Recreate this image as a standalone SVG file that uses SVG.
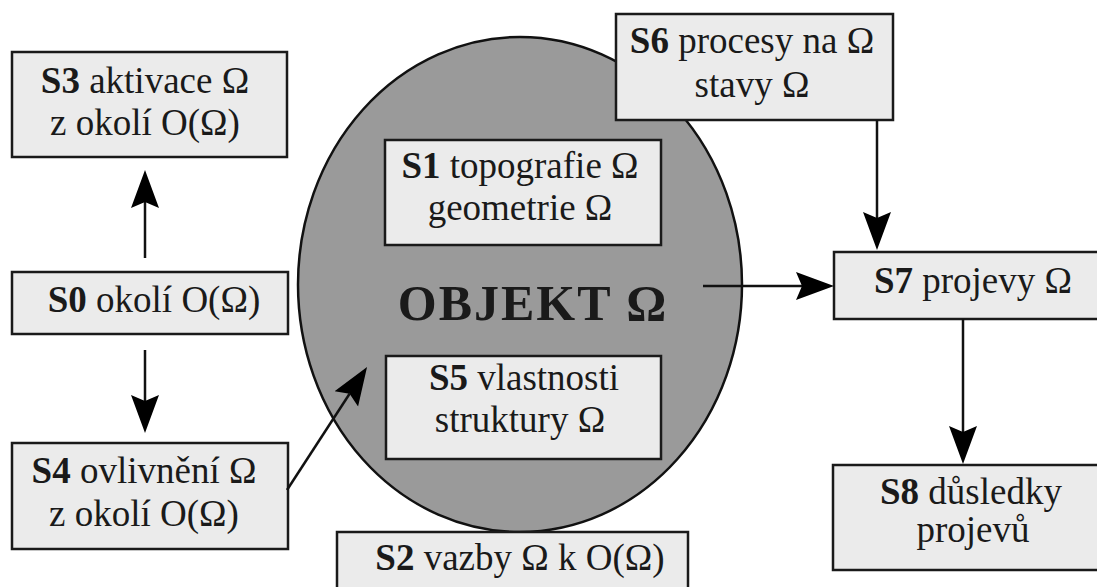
<svg xmlns="http://www.w3.org/2000/svg" width="1097" height="587" viewBox="0 0 1097 587">
<style>
.box{fill:#ebebeb;stroke:#1a1a1a;stroke-width:2.5}
.t{font-family:"Liberation Serif","DejaVu Serif",serif;font-size:37px;fill:#1a1a1a;text-anchor:middle}
.b{font-weight:bold}
.c{stroke:#111;stroke-width:2.5;fill:none}
</style>
<defs>
<marker id="ah" markerUnits="userSpaceOnUse" viewBox="0 -15 40 30" markerWidth="40" markerHeight="30" refX="6" refY="0" orient="auto">
<path d="M0,-14 L38,0 L0,14 L6,0 Z" fill="#000"/>
</marker>
</defs>
<rect width="1097" height="587" fill="#fff"/>
<g id="objekt">
<ellipse cx="520" cy="284.5" rx="222" ry="247.5" fill="#9a9a9a" stroke="#111" stroke-width="2.5"/>
<text class="t b" x="533" y="320" style="font-size:50px" letter-spacing="2">OBJEKT Ω</text>
</g>
<g id="S1">
<rect class="box" x="385" y="140" width="276" height="105"/>
<text class="t" x="520" y="178"><tspan class="b">S1</tspan> topografie Ω</text>
<text class="t" x="520" y="220">geometrie Ω</text>
</g>
<g id="S5">
<rect class="box" x="386" y="356" width="275" height="103"/>
<text class="t" x="524" y="390"><tspan class="b">S5</tspan> vlastnosti</text>
<text class="t" x="520" y="432">struktury Ω</text>
</g>
<g id="S3">
<rect class="box" x="12" y="52" width="275" height="105"/>
<text class="t" x="145" y="93"><tspan class="b">S3</tspan> aktivace Ω</text>
<text class="t" x="145" y="135">z okolí O(Ω)</text>
</g>
<g id="S0">
<rect class="box" x="12" y="272" width="276" height="62"/>
<text class="t" x="154" y="312"><tspan class="b">S0</tspan> okolí O(Ω)</text>
</g>
<g id="S4">
<rect class="box" x="12" y="443" width="276" height="106"/>
<text class="t" x="144" y="483"><tspan class="b">S4</tspan> ovlivnění Ω</text>
<text class="t" x="144" y="526">z okolí O(Ω)</text>
</g>
<g id="S2">
<rect class="box" x="337" y="532" width="351" height="70"/>
<text class="t" x="520" y="570"><tspan class="b">S2</tspan> vazby Ω k O(Ω)</text>
</g>
<g id="S6">
<rect class="box" x="616" y="14" width="277" height="106"/>
<text class="t" x="752" y="53"><tspan class="b">S6</tspan> procesy na Ω</text>
<text class="t" x="752" y="97">stavy Ω</text>
</g>
<g id="S7">
<rect class="box" x="834" y="252" width="270" height="67"/>
<text class="t" x="973" y="293"><tspan class="b">S7</tspan> projevy Ω</text>
</g>
<g id="S8">
<rect class="box" x="833" y="465" width="270" height="105"/>
<text class="t" x="971" y="504"><tspan class="b">S8</tspan> důsledky</text>
<text class="t" x="973" y="542">projevů</text>
</g>
<g id="connectors">
<line class="c" x1="145" y1="258" x2="145" y2="202" marker-end="url(#ah)"/>
<line class="c" x1="145" y1="350" x2="145" y2="401" marker-end="url(#ah)"/>
<line class="c" x1="287" y1="490" x2="349.6" y2="393.8" marker-end="url(#ah)"/>
<line class="c" x1="877" y1="120" x2="877" y2="218" marker-end="url(#ah)"/>
<line class="c" x1="703" y1="286" x2="802" y2="286" marker-end="url(#ah)"/>
<line class="c" x1="963" y1="319" x2="963" y2="432" marker-end="url(#ah)"/>
</g>
</svg>
